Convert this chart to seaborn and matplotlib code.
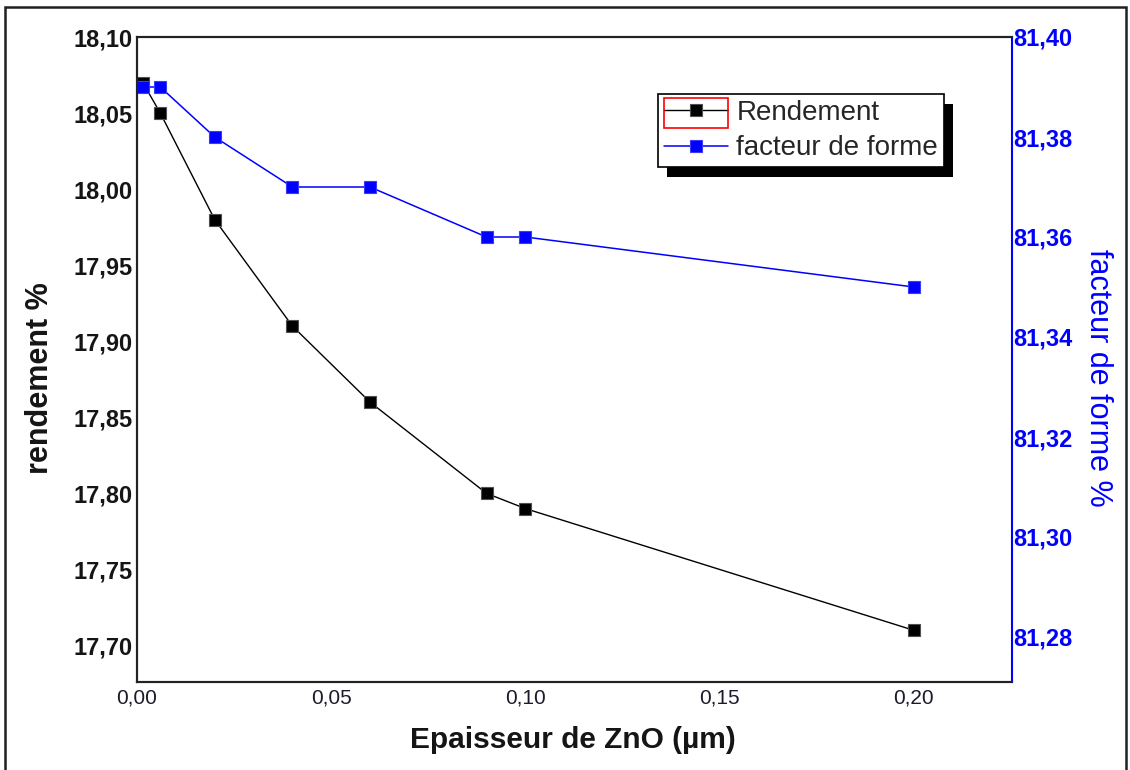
import pandas as pd
import seaborn as sns
import matplotlib.pyplot as plt
from matplotlib.patches import Rectangle
from matplotlib.transforms import IdentityTransform

# values
epaisseur = [0.0015, 0.006, 0.02, 0.04, 0.06, 0.09, 0.10, 0.20]
rendement = [18.07, 18.05, 17.98, 17.91, 17.86, 17.80, 17.79, 17.71]
facteur_forme = [81.39, 81.39, 81.38, 81.37, 81.37, 81.36, 81.36, 81.35]

x_ticks = [0.00, 0.05, 0.10, 0.15, 0.20]
left_ticks = [17.70, 17.75, 17.80, 17.85, 17.90, 17.95, 18.00, 18.05, 18.10]
right_ticks = [81.28, 81.30, 81.32, 81.34, 81.36, 81.38, 81.40]
legend_labels = ["Rendement", "facteur de forme"]


def virgule(v):
    # french decimal comma
    return f"{v:.2f}".replace(".", ",")


df = pd.DataFrame({"epaisseur": epaisseur, "rendement": rendement, "facteur": facteur_forme})

sns.set_theme(style="white")
plt.rcParams["font.family"] = ["Liberation Sans", "DejaVu Sans"]

W, H = 1130, 770
fig = plt.figure(figsize=(W / 100, H / 100), dpi=100)
ax = fig.add_axes([137 / W, 1 - 682 / H, 875 / W, 645 / H])
ax2 = ax.twinx()

blue = "#0000ff"

sns.lineplot(data=df, x="epaisseur", y="rendement", ax=ax, color="black", lw=1,
             marker="s", markersize=9, markeredgecolor="#505050", markeredgewidth=0.8)
sns.lineplot(data=df, x="epaisseur", y="facteur", ax=ax2, color=blue, lw=1.1,
             marker="s", markersize=9, markeredgecolor="#3a3aff", markeredgewidth=0.8)

ax.set_xlim(0, 0.2253)
ax.set_ylim(17.676, 18.10)
ax2.set_ylim(81.271, 81.40)

ax.set_xticks(x_ticks, [virgule(v) for v in x_ticks])
ax.set_yticks(left_ticks, [virgule(v) for v in left_ticks])
ax2.set_yticks(right_ticks, [virgule(v) for v in right_ticks])

ax.tick_params(axis="x", length=0, pad=5, labelsize=15, labelcolor="#1b1b2b")
ax.tick_params(axis="y", length=0, pad=3, labelsize=17, labelcolor="#151515")
ax2.tick_params(axis="y", length=0, pad=1, labelsize=17, labelcolor=blue)
for t in ax.get_yticklabels() + ax2.get_yticklabels():
    t.set_fontweight("bold")

for a in (ax, ax2):
    a.set_xlabel("")
    a.set_ylabel("")
    for side in ("left", "top", "bottom"):
        a.spines[side].set_color("#222222")
        a.spines[side].set_linewidth(1.5)
ax.spines["right"].set_visible(False)
ax2.spines["right"].set_color(blue)
ax2.spines["right"].set_linewidth(1.5)

fig.text(40 / W, 1 - 378 / H, "rendement %", rotation=90, ha="center", va="center",
         fontsize=22, fontweight="bold", color="#151515")
fig.text(1098 / W, 1 - 378 / H, "facteur de forme %", rotation=270, ha="center",
         va="center", fontsize=22, color=blue)
fig.text(573 / W, 1 - 740 / H, "Epaisseur de ZnO (µm)", ha="center", va="center",
         fontsize=21.5, fontweight="bold", color="#151515")

leg = ax2.legend([ax.lines[0], ax2.lines[0]], legend_labels, loc="upper left",
                 bbox_to_anchor=(658 / W, 1 - 94 / H), bbox_transform=fig.transFigure,
                 borderaxespad=0, frameon=True, fancybox=False, edgecolor="black",
                 framealpha=1, fontsize=20, handlelength=2.3, handletextpad=0.3,
                 borderpad=0.22, labelspacing=0.33)
leg.get_frame().set_linewidth(1.2)

# drop shadow and the red selection box around the first legend entry
fig.canvas.draw()
renderer = fig.canvas.get_renderer()
bb = leg.get_window_extent(renderer)
shadow = Rectangle((bb.x0 + 9, bb.y0 - 10), bb.width, bb.height, transform=IdentityTransform(),
                   facecolor="black", edgecolor="none", zorder=4.5)
ax2.add_artist(shadow)
tb = leg.get_texts()[0].get_window_extent(renderer)
sel = Rectangle((bb.x0 + 6, tb.y0 - 2), tb.x0 - bb.x0 - 14, tb.height + 4,
                transform=IdentityTransform(), fill=False, edgecolor="red", lw=1.2, zorder=6)
ax2.add_artist(sel)

# outer frame around the picture
fig.patches.append(Rectangle((5 / W, -0.1), 1121 / W, 1 - 7 / H + 0.1, transform=fig.transFigure,
                             fill=False, edgecolor="#202020", lw=1.8))

fig.savefig("out.png", dpi=100)
